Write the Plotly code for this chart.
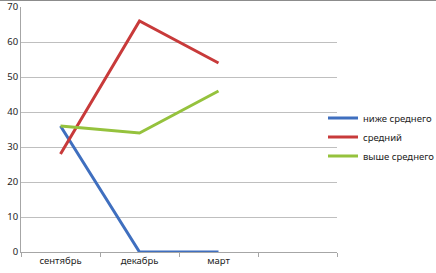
import plotly.graph_objects as go

categories = ["сентябрь", "декабрь", "март"]
below_avg = [36, 0, 0]
average = [28, 66, 54]
above_avg = [36, 34, 46]
series_names = ["ниже среднего", "средний", "выше среднего"]
y_ticks = [0, 10, 20, 30, 40, 50, 60, 70]

colors = ["#3f6fbf", "#c83a3a", "#95c23d"]
xs = list(range(len(categories)))

fig = go.Figure()
for name, vals, c in zip(series_names, [below_avg, average, above_avg], colors):
    fig.add_trace(go.Scatter(x=xs, y=vals, mode="lines", name=name,
                             line=dict(color=c, width=3)))

fig.update_layout(
    width=436, height=273,
    margin=dict(l=21, r=99, t=7, b=21, autoexpand=False),
    paper_bgcolor="white", plot_bgcolor="white",
    font=dict(family="Noto Sans", size=9.5, color="#222222"),
    showlegend=True,
    legend=dict(x=(323 - 21) / 316, xanchor="left", y=(252 - 137) / 245, yanchor="middle",
                font=dict(size=9.5), itemwidth=30, tracegroupgap=0,
                bgcolor="rgba(0,0,0,0)"),
    xaxis=dict(range=[-0.5, 3.5], tickmode="array", tickvals=xs,
               ticktext=categories, ticks="", showgrid=False,
               showline=True, linecolor="#a6a6a6", linewidth=1,
               zeroline=False,
               minor=dict(tickmode="array", tickvals=[-0.5, 0.5, 1.5, 2.5, 3.5],
                          ticks="outside", ticklen=4, tickcolor="#a6a6a6",
                          showgrid=False)),
    yaxis=dict(range=[0, 70], tickmode="array", tickvals=y_ticks,
               showgrid=True, gridcolor="#bfbfbf", gridwidth=1,
               showline=True, linecolor="#a6a6a6", linewidth=1,
               zeroline=False, ticks="", ticklen=3),
)
fig.add_shape(type="line", xref="paper", yref="paper",
              x0=-21 / 316, x1=(436 - 21) / 316,
              y0=1 + 6.5 / 245, y1=1 + 6.5 / 245,
              line=dict(color="#8c8c8c", width=1))
fig.write_html("out.html")
